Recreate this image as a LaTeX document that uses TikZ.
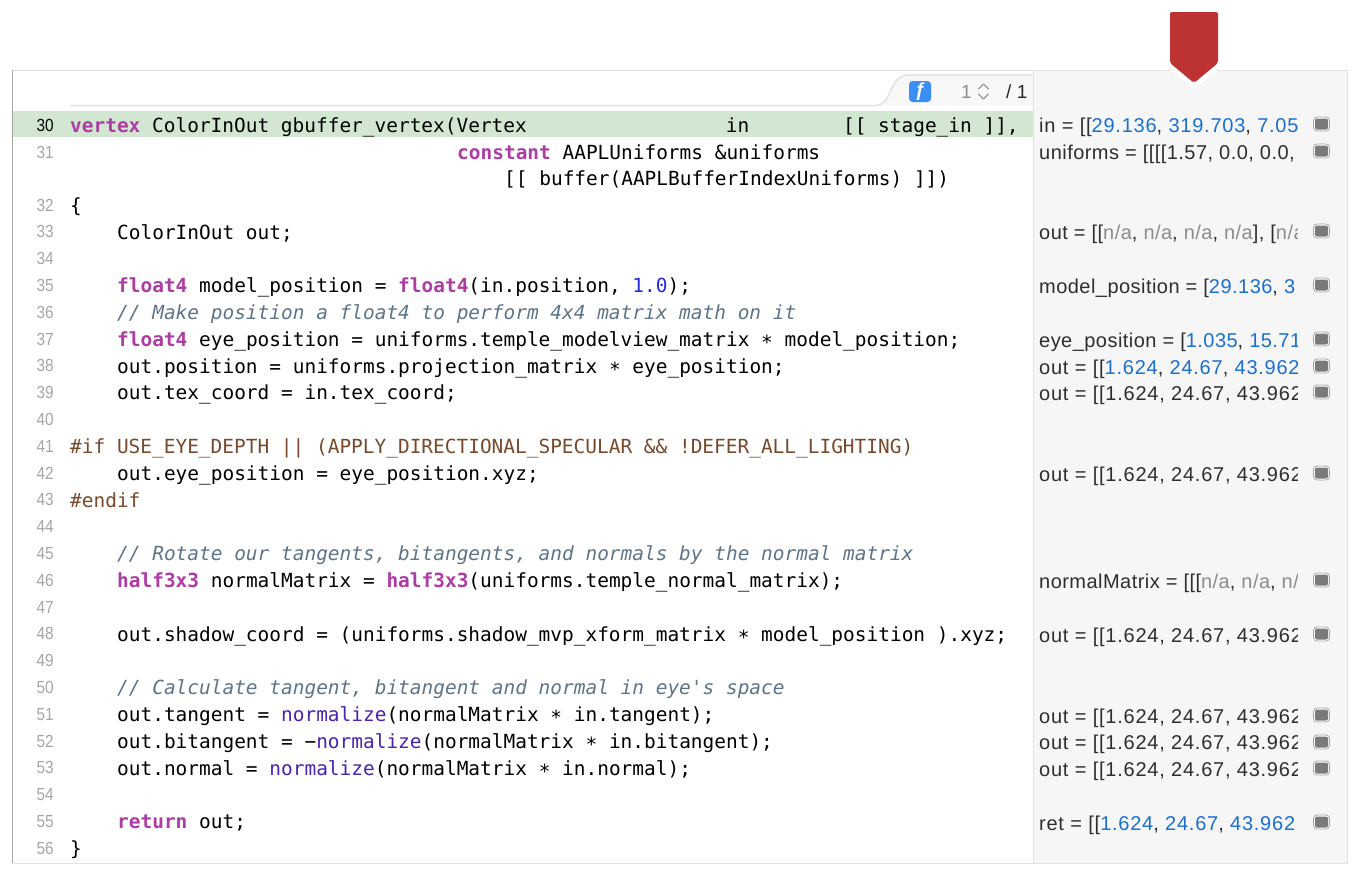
\documentclass[tikz,border=0pt]{standalone}
\usepackage{fontspec}
\setmainfont{Liberation Sans}
\setmonofont{DejaVu Sans Mono}
\newfontfamily\numfont[FakeStretch=0.88]{Liberation Sans}
\newfontfamily\valfont[LetterSpace=2.3]{Liberation Sans}
\newfontfamily\digfont[LetterSpace=3.8]{Liberation Sans}
\definecolor{kwpurple}{HTML}{AD3DA4}
\definecolor{cmtgray}{HTML}{5F7488}
\definecolor{ppbrown}{HTML}{78492A}
\definecolor{numblue}{HTML}{272AD8}
\definecolor{fnblue}{HTML}{4A22B0}
\definecolor{valblue}{HTML}{1A6FD0}
\definecolor{nagray}{HTML}{8C8C8C}
\definecolor{hlgreen}{HTML}{D3E6D2}
\definecolor{sidegray}{HTML}{F6F6F6}
\definecolor{tabgray}{HTML}{F8F8F8}
\definecolor{edgegray}{HTML}{E2E2E2}
\definecolor{badgeblue}{HTML}{3A8EF6}
\definecolor{marked}{HTML}{BD3232}
\newcommand{\kw}[1]{{\color{kwpurple}\bfseries #1}}
\newcommand{\fn}[1]{{\color{fnblue}#1}}
\newcommand{\vb}[1]{{\color{valblue}#1}}
\newcommand{\na}[1]{{\color{nagray}#1}}
\newcommand{\st}{\raisebox{-3pt}{*}}
\tikzset{
 codeline/.style={anchor=base west,inner sep=0pt,font=\ttfamily\fontsize{19.45}{22}\selectfont},
 comment/.style={codeline,text=cmtgray,font=\ttfamily\itshape\fontsize{19.45}{22}\selectfont},
 preproc/.style={codeline,text=ppbrown},
 lineno/.style={anchor=base east,inner sep=0pt,text=black!35,font=\numfont\fontsize{17.5}{18}\selectfont},
 sidetext/.style={anchor=base west,inner sep=0pt,text=black!82,font=\valfont\fontsize{20}{22}\selectfont},
 sidedigits/.style={sidetext,font=\digfont\fontsize{20}{22}\selectfont},
 sideicon/.style={draw=black!35,fill=white,line width=.8pt,rounded corners=3.5pt},
 sidecore/.style={fill=black!52,rounded corners=2pt}
}
\begin{document}
\begin{tikzpicture}[x=1pt,y=-1pt]
 \useasboundingbox (0,0) rectangle (1360,876);
 % panels
 \fill[white](0,0) rectangle (1360,876);
 \fill[sidegray](1033,70) rectangle (1347,863);
 % tab of the toolbar
 \fill[tabgray](875,105) .. controls (884,105) and (887,99) .. (890,92) .. controls (895,81) and (899,75) .. (910,75)--(1033,75)--(1033,105)--cycle;
 \draw[edgegray,line width=1.5pt](70,105.5)--(875,105.5) .. controls (884,105.5) and (887,99) .. (890,92) .. controls (895,81) and (899,75) .. (910,75)--(1033,75);
 \fill[hlgreen](13,111) rectangle (1033,137);
 \draw[edgegray,line width=1pt](12.5,70) rectangle (1347,863);
 \draw[edgegray,line width=1pt](1033,70)--(1033,863);
 \draw[black!35,line width=1pt](12.5,70)--(12.5,863);
 % toolbar
 \fill[badgeblue,rounded corners=3.5pt](909,81) rectangle (931,102);
 \node[inner sep=0pt,text=white,font=\bfseries\itshape\fontsize{19}{22}\selectfont] (fbadge) at (920,91.5) {ƒ};
 \node[anchor=base west,inner sep=0pt,text=black!45,font=\fontsize{19}{20}\selectfont] (pagecur) at (961,98.5) {1};
 \draw[black!40,line width=1.2pt,line cap=round,line join=round](978.5,89)--(983.5,84)--(988.5,89);
 \draw[black!40,line width=1.2pt,line cap=round,line join=round](978.5,94)--(983.5,99)--(988.5,94);
 \node[anchor=base west,inner sep=0pt,text=black!85,font=\fontsize{19}{20}\selectfont] (pageall) at (1006,98.5) {/ 1};
 % bookmark
 \fill[white](1168,60)--(1168,68)--(1194,89)--(1220,68)--(1220,60)--cycle;
 \fill[marked,rounded corners=2pt](1170,12)--(1170,50)--(1170,63)--(1194,83)--(1218,63)--(1218,12)--cycle;
 % line numbers
 \node[lineno,text=black] (num30) at (54,131) {30};
 \node[lineno] (num31) at (54,158) {31};
 \foreach \n in {32,...,56}
  \node[lineno] (num\n) at (54,{211+(\n-32)*26.8}) {\n};
 % code
 \begin{scope}[yshift=-1.2pt]
 \node[codeline] (line30) at (70,131) {\kw{vertex} ColorInOut gbuffer\_vertex(Vertex~~~~~~~~~~~~~~~~~in~~~~~~~~[[ stage\_in ]],};
 \node[codeline] (line31) at (457,158) {\kw{constant} AAPLUniforms \&uniforms};
 \node[codeline] (line31b) at (504,184.5) {[[ buffer(AAPLBufferIndexUniforms) ]])};
 \node[codeline] (line32) at (70,211) {\{};
 \node[codeline] (line33) at (117,237.8) {ColorInOut out;};
 \node[codeline] (line35) at (117,291.4) {\kw{float4} model\_position = \kw{float4}(in.position, {\color{numblue}1.0});};
 \node[comment] (line36) at (117,318.2) {// Make position a float4 to perform 4x4 matrix math on it};
 \node[codeline] (line37) at (117,345) {\kw{float4} eye\_position = uniforms.temple\_modelview\_matrix \st{} model\_position;};
 \node[codeline] (line38) at (117,371.8) {out.position = uniforms.projection\_matrix \st{} eye\_position;};
 \node[codeline] (line39) at (117,398.6) {out.tex\_coord = in.tex\_coord;};
 \node[preproc] (line41) at (70,452.2) {\#if USE\_EYE\_DEPTH || (APPLY\_DIRECTIONAL\_SPECULAR \&\& !DEFER\_ALL\_LIGHTING)};
 \node[codeline] (line42) at (117,479) {out.eye\_position = eye\_position.xyz;};
 \node[preproc] (line43) at (70,505.8) {\#endif};
 \node[comment] (line45) at (117,559.4) {// Rotate our tangents, bitangents, and normals by the normal matrix};
 \node[codeline] (line46) at (117,586.2) {\kw{half3x3} normalMatrix = \kw{half3x3}(uniforms.temple\_normal\_matrix);};
 \node[codeline] (line48) at (117,639.8) {out.shadow\_coord = (uniforms.shadow\_mvp\_xform\_matrix \st{} model\_position ).xyz;};
 \node[comment] (line50) at (117,693.4) {// Calculate tangent, bitangent and normal in eye's space};
 \node[codeline] (line51) at (117,720.2) {out.tangent = \fn{normalize}(normalMatrix \st{} in.tangent);};
 \node[codeline] (line52) at (117,747) {out.bitangent = −\fn{normalize}(normalMatrix \st{} in.bitangent);};
 \node[codeline] (line53) at (117,773.8) {out.normal = \fn{normalize}(normalMatrix \st{} in.normal);};
 \node[codeline] (line55) at (117,827.4) {\kw{return} out;};
 \node[codeline] (line56) at (70,854.2) {\}};
 \end{scope}
 % values, cut off at the edge of their column
 \begin{scope}
  \clip (1036,100) rectangle (1297,860);
  \node[sidedigits] (val30) at (1039,132) {in = [[\vb{29.136}, \vb{319.703}, \vb{7.05}};
  \node[sidetext] (val31) at (1039,159) {uniforms = [[[[1.57, 0.0, 0.0,};
  \node[sidetext] (val33) at (1039,239) {out = [[\na{n/a}, \na{n/a}, \na{n/a}, \na{n/a}], [\na{n/a}};
  \node[sidetext] (val35) at (1039,293) {model\_position = [\vb{29.136}, \vb{3}};
  \node[sidetext] (val37) at (1039,347) {eye\_position = [\vb{1.035}, \vb{15.71}};
  \node[sidedigits] (val38) at (1039,374) {out = [[\vb{1.624}, \vb{24.67}, \vb{43.962}};
  \node[sidedigits] (val39) at (1039,400) {out = [[1.624, 24.67, 43.962};
  \node[sidedigits] (val42) at (1039,481) {out = [[1.624, 24.67, 43.962};
  \node[sidetext] (val46) at (1039,588) {normalMatrix = [[[\na{n/a}, \na{n/a}, \na{n/a}};
  \node[sidedigits] (val48) at (1039,642) {out = [[1.624, 24.67, 43.962};
  \node[sidedigits] (val51) at (1039,723) {out = [[1.624, 24.67, 43.962};
  \node[sidedigits] (val52) at (1039,749) {out = [[1.624, 24.67, 43.962};
  \node[sidedigits] (val53) at (1039,776) {out = [[1.624, 24.67, 43.962};
  \node[sidedigits] (val55) at (1039,830) {ret = [[\vb{1.624}, \vb{24.67}, \vb{43.962}};
 \end{scope}
 % value icons
 \foreach \y in {124,151,231,285,339,366,392,473,580,634,715,742,768,822}{
  \draw[sideicon](1313.5,\y-7) rectangle (1329.5,\y+7);
  \fill[sidecore](1315,\y-5.5) rectangle (1328,\y+5.5);
 }
\end{tikzpicture}
\end{document}
